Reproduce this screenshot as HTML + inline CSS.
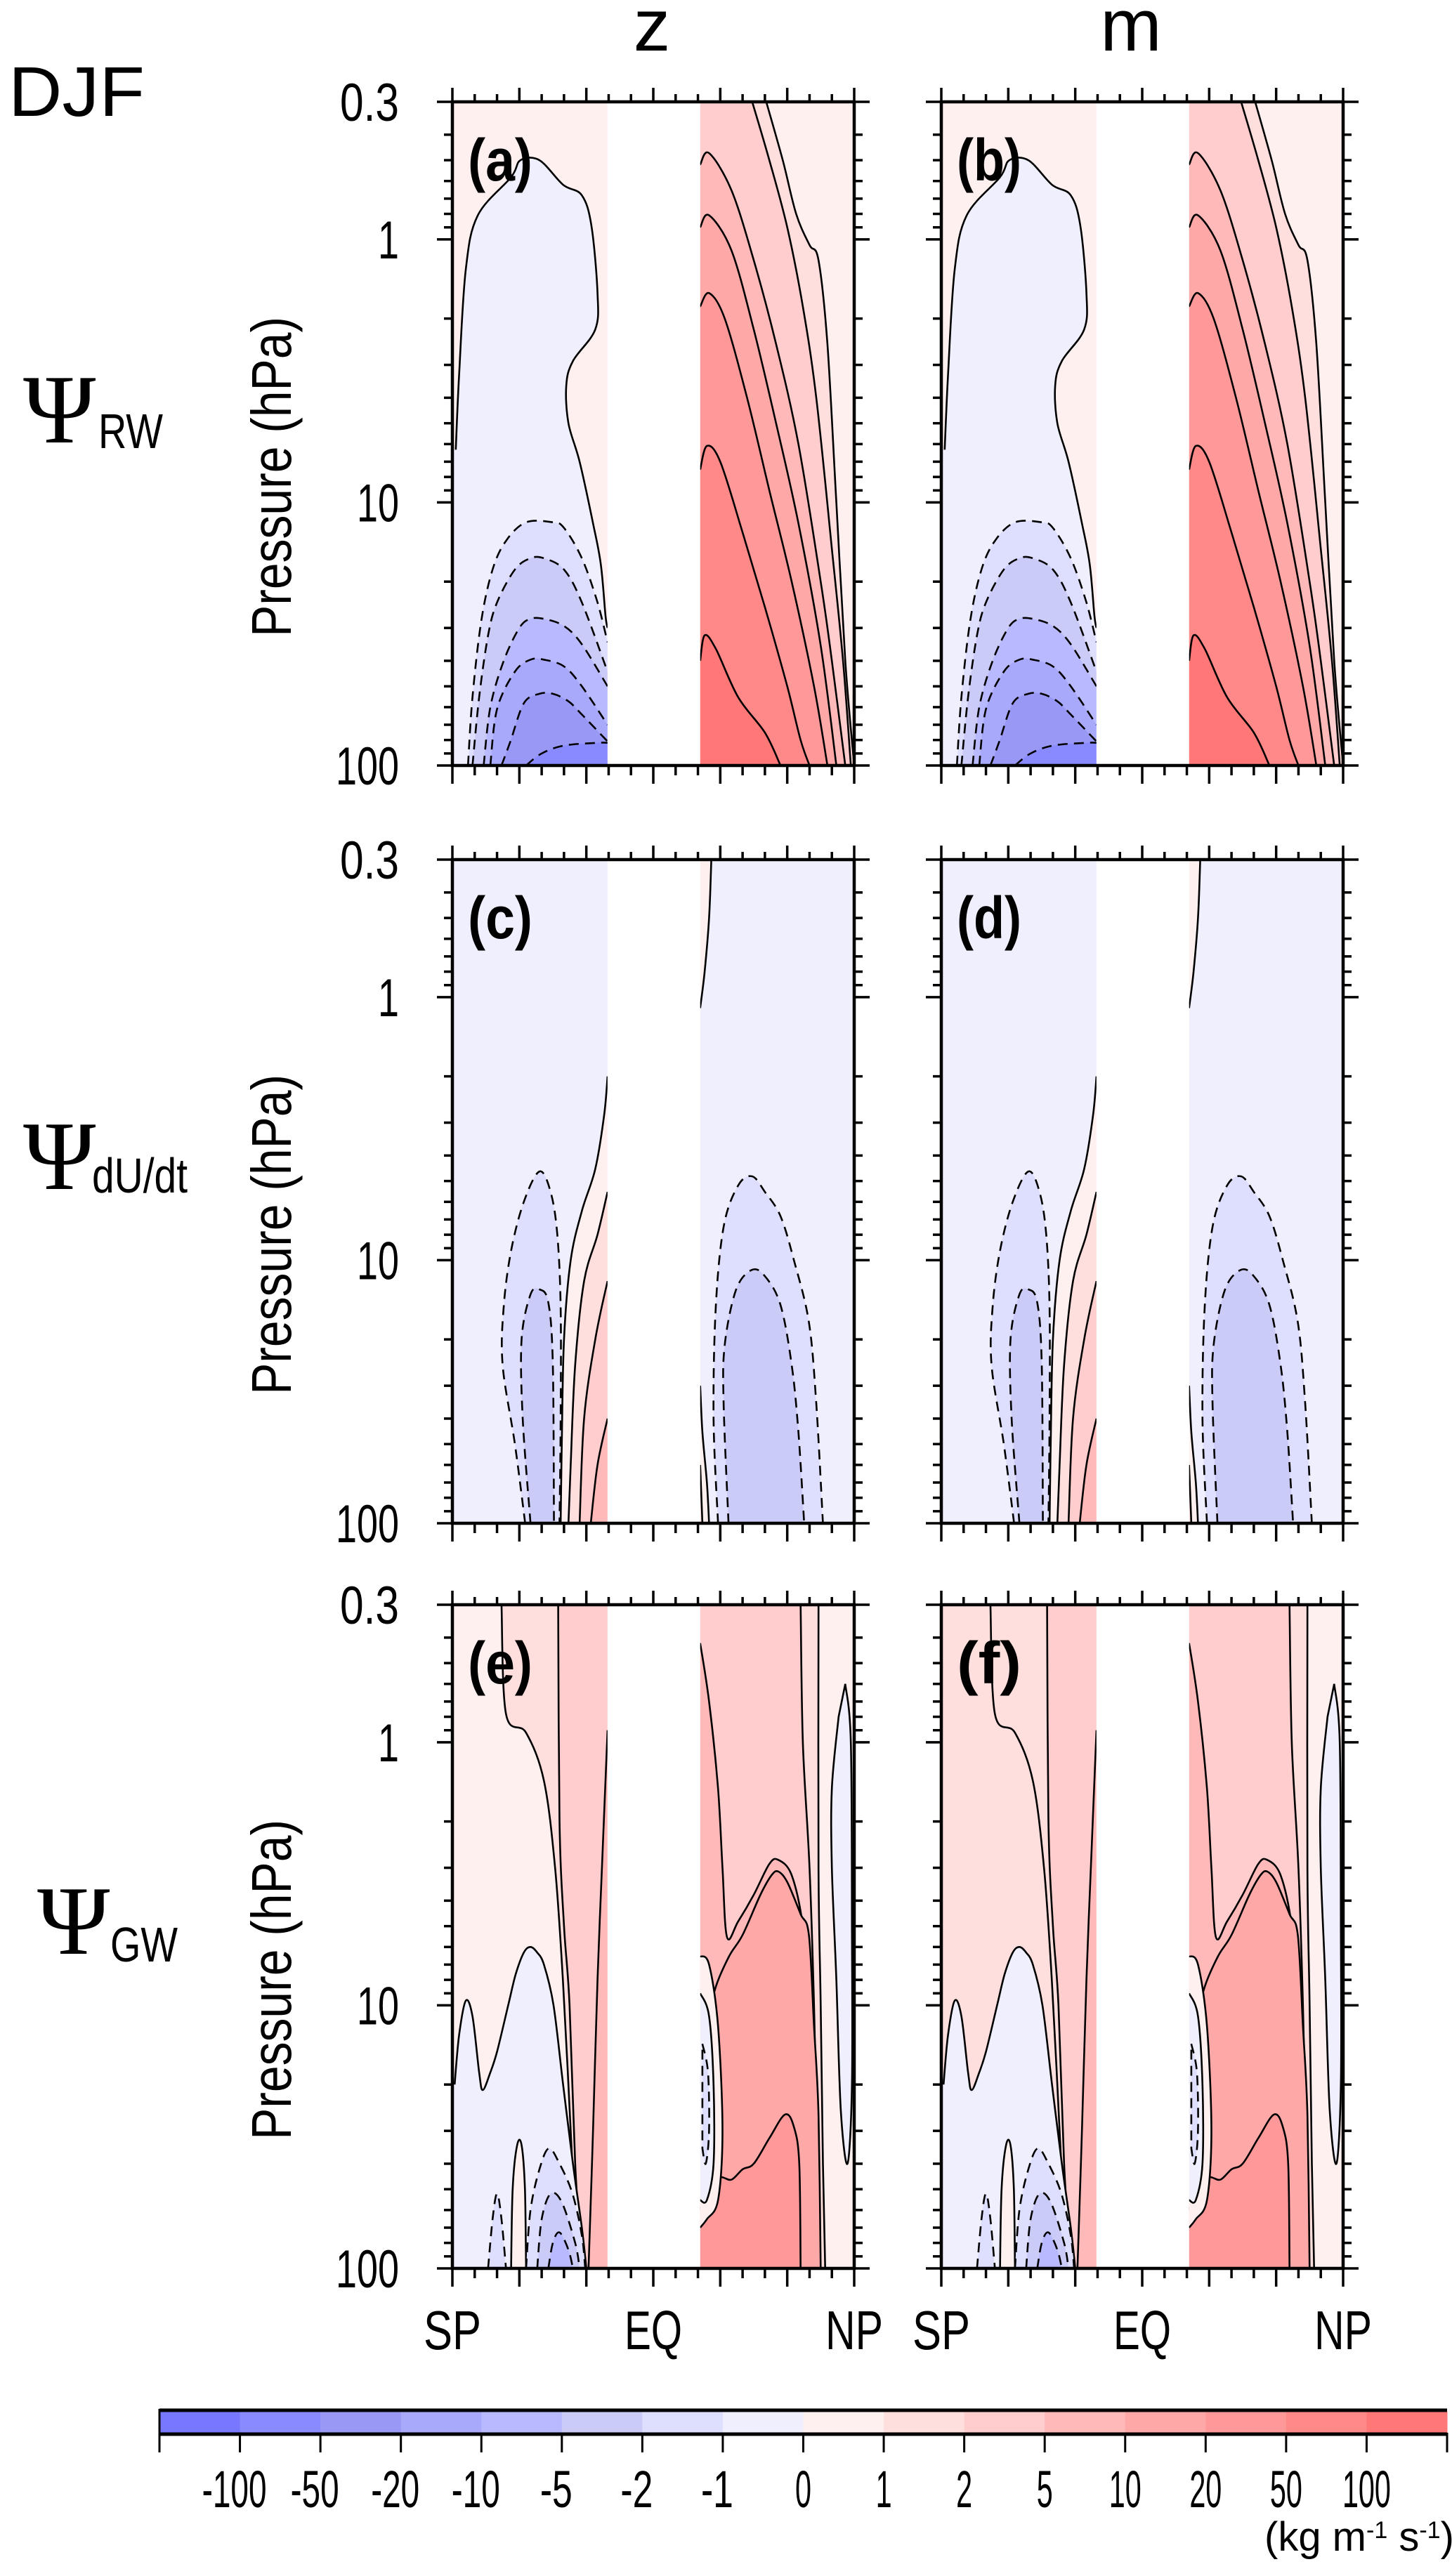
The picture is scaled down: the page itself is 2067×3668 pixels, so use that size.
<!DOCTYPE html>
<html><head><meta charset="utf-8"><style>
html,body{margin:0;padding:0;background:#fff;}
svg{display:block;}
text{font-family:"Liberation Sans Narrow","Liberation Sans",sans-serif;fill:#000;}
</style></head>
<body>
<svg id="fig" width="2067" height="3668" viewBox="0 0 2067 3668" xmlns="http://www.w3.org/2000/svg">
<text x="12" y="165" font-size="100" textLength="194" lengthAdjust="spacingAndGlyphs" style="font-family:'Liberation Sans',sans-serif">DJF</text>
<text x="928" y="72" font-size="105" text-anchor="middle">z</text>
<text x="1610" y="72" font-size="105" text-anchor="middle">m</text>
<g><text x="33" y="630" font-size="140" style="font-family:'Liberation Serif',serif">Ψ</text><text x="140" y="638" font-size="70" textLength="92" lengthAdjust="spacingAndGlyphs">RW</text></g>
<g><text x="33" y="1693" font-size="140" style="font-family:'Liberation Serif',serif">Ψ</text><text x="131" y="1698" font-size="70" textLength="136" lengthAdjust="spacingAndGlyphs">dU/dt</text></g>
<g><text x="53" y="2782" font-size="140" style="font-family:'Liberation Serif',serif">Ψ</text><text x="157" y="2793" font-size="70" textLength="96" lengthAdjust="spacingAndGlyphs">GW</text></g>
</svg>
<script>
// ---------- colour scale data ----------
const binColors=['#7878ff','#8a8aff','#9999f5','#a9a9fc','#b9b9ff','#cbcbf8','#dedefe','#efeffd','#fff0f0','#ffdede','#ffcdcd','#ffb9b9','#ffa8a8','#ff9999','#ff8888','#ff7777'];
const cbTickLabels=['-100','-50','-20','-10','-5','-2','-1','0','1','2','5','10','20','50','100'];
const pTicksMajor=[0.3,1,10,100];
const pTickLabels=['0.3','1','10','100'];
const pTicksMinor=[0.4,0.5,0.6,0.7,0.8,0.9,2,3,4,5,6,7,8,9,20,30,40,50,60,70,80,90];
const latTicks=[-90,-80,-70,-60,-50,-40,-30,-20,-10,0,10,20,30,40,50,60,70,80,90];
const latLabels=['SP','EQ','NP'];
const latLabelPos=[-90,0,90];

// ---------- panel a/b : Psi_RW ----------
const rwShZero=[[-88.5,6.3],[-87,3.3],[-84,1.3],[-78.6,0.81],[-63.7,0.58],[-59.5,0.5],[-51,0.5],[-40.4,0.62],[-32,0.68],[-27.7,0.89],[-25,1.6],[-26,2.2],[-36,2.9],[-39,3.6],[-38,5],[-33,7],[-27,12],[-23.5,17.2],[-21.4,27],[-20.5,30]];
const rwShM1=[[-83,100],[-81,55],[-77,28],[-72,18],[-66,14],[-57,11.9],[-45,11.9],[-40,12.5],[-32,16.3],[-25,24],[-20.5,34]];
const rwShM2=[[-81,100],[-78,55],[-74,32],[-70,24],[-62,18],[-55,16.3],[-49,16.3],[-40,18],[-32,24],[-20.5,44]];
const rwShM5=[[-76,100],[-73,60],[-67,40],[-60,30],[-55,27.7],[-49,27.7],[-40,29.5],[-32,34.6],[-20.5,50]];
const rwShM10=[[-73,100],[-70,61],[-62,44],[-55,39.6],[-49,39.6],[-40,42],[-32,50],[-20.5,70]];
const rwShM20=[[-68,100],[-64,81],[-58,58],[-51,53.4],[-45,53.4],[-38,57],[-32,64],[-20.5,81]];
const rwShM50=[[-57,100],[-50,90],[-40,84],[-25,82],[-20.5,82]];
const rwNh1=[[50.6,0.3],[58,0.5],[64,0.8],[70,1.05],[74,1.2],[78,2.5],[82,10],[86,40],[90,100]];
const rwNh2=[[44.3,0.3],[52,0.5],[60,0.9],[67,1.8],[73,4],[80,15],[85,40],[88.5,100]];
const rwNh5=[[21,0.52],[25,0.47],[35,0.65],[45,1.2],[55,2.5],[65,6],[75,20],[80,40],[86,100]];
const rwNh10=[[21,0.9],[25,0.81],[35,1.1],[45,2.2],[55,5],[65,12],[75,35],[82,100]];
const rwNh20=[[21,1.8],[25,1.6],[32,2],[42,4],[52,9],[62,20],[72,50],[78,100]];
const rwNh50=[[21,7.5],[24,6.1],[30,7],[40,13],[50,25],[60,50],[66,80],[70,100]];
const rwNh100=[[21,40],[23,32],[28,36],[38,55],[50,75],[57,100]];

// ---------- panel c/d : Psi_dU/dt ----------
const duShM1=[[-57.4,100],[-62,50],[-67.5,25],[-67,15],[-63.7,9.2],[-58,6],[-51,4.6],[-46,5.5],[-43,8],[-41.5,15],[-41.5,40],[-42,100]];
const duShM2=[[-55,100],[-58.5,40],[-59,20],[-55,13.5],[-51,12.9],[-47,14.5],[-45,25],[-44.5,100]];
const duShP0=[[-20.5,2.0],[-22,2.8],[-26,4.5],[-32,6.5],[-37,10],[-40,20],[-41,50],[-41.5,100]];
const duShP1=[[-20.5,5.5],[-25,8],[-31,12],[-35,25],[-37,60],[-38,100]];
const duShP2=[[-20.5,12],[-26,20],[-31,40],[-33,100]];
const duShP5=[[-20.5,40],[-25,60],[-28,100]];
const duNhTop=[[26,0.3],[25,0.5],[23,0.8],[21,1.1]];
const duNhP0=[[21,30],[22,45],[24,70],[25,100]];
const duNhP1=[[21,60],[22,100]];
const duNhM1=[[29,100],[27,40],[28,15],[31.6,7.4],[38,5.2],[44.3,4.8],[50,5.5],[57,6.8],[63,10],[69.7,17.2],[73,35],[76,100]];
const duNhM2=[[33.7,100],[31.5,35],[32,21],[37,13],[44,10.9],[50,11.5],[57,14.8],[62,25],[65,45],[67.6,100]];

// ---------- panel e/f : Psi_GW ----------
const gwSh1=[[-68,0.3],[-66,0.78],[-57,0.92],[-49,1.4],[-44,3],[-40.5,8],[-37,30],[-34,100]];
const gwSh2=[[-42.6,0.3],[-42,2],[-40,5],[-37.5,10],[-35,40],[-32,100]];
const gwSh5=[[-20.5,0.9],[-23,3],[-25,8],[-27,30],[-29,100]];
const gwShZero=[[-89,20],[-87,13],[-84,9.6],[-81,11],[-78,18],[-76.4,21],[-73,18],[-70,15],[-65,10],[-61.6,7.6],[-58,6.3],[-55,6],[-52,6.3],[-49,7],[-44.7,10],[-40.4,20],[-36,40],[-32,70],[-30,100]];
const gwShSpike=[[-63.7,100],[-63,50],[-61,34],[-59,34],[-57.5,50],[-57,100]];
const gwShM1=[[-57,100],[-55,60],[-51,42],[-46.8,35],[-42,40],[-36.2,52],[-32,75],[-30.5,100]];
const gwShM2=[[-52,100],[-50,65],[-46,52],[-41,56],[-35,80],[-33,100]];
const gwShM5=[[-47,100],[-45,80],[-42,73],[-38,85],[-36,100]];
const gwShSmall=[[-74,100],[-72,65],[-70,52],[-68,65],[-66,100]];
const gwNh1=[[74,0.3],[74,3],[75,10],[76,40],[77,100]];
const gwNh2=[[66,0.3],[67,1],[70,3],[72,10],[73.5,40],[74,100]];
const gwNh5=[[21,0.42],[25,0.7],[29,1.5],[31,3],[33,5.5],[38,4.8],[45,3.8],[52,2.9],[56,2.8],[62,3.2],[67,5],[70,10],[72,30],[73,100]];
const gwNh10=[[21,20],[24,12],[28,8.5],[34,6.5],[40,5.4],[48,3.8],[53,3.2],[56,3.1],[60,3.4],[66,4.5],[69.7,5.4],[72,12],[74,26],[75,100]];
const gwNh20=[[21,60],[25,48],[30,45],[35,46],[40,42],[45,40],[52,32],[59,26],[63,29],[65.4,40],[66,100]];
const gwNhBlue=[[86,0.6],[88.5,1.0],[89,5],[89,20],[87,40],[84,25],[82,8],[80,3],[80,1.5],[83,0.8]];
const gwNhRing=[[21,6.5],[25,7],[29,12],[31,30],[29,55],[24,65],[21,70]];
const gwNhRingBlue=[[21,9],[25,11],[27,20],[27,40],[24,55],[21,55]];
const gwNhRingNeg=[[22,14],[24.5,18],[25,30],[23.5,40],[22,35]];

// ---------- layout ----------
const NS='http://www.w3.org/2000/svg';
const svg=document.getElementById('fig');
const colX=[644,1340], PW=572;
const rowY=[145,1224,2285], PH=945;
const GAPL=-20.5, GAPR=21;
function mk(tag,attrs,parent){const e=document.createElementNS(NS,tag);for(const k in attrs)e.setAttribute(k,attrs[k]);(parent||svg).appendChild(e);return e;}

function smooth(P){
  if(P.length<3){return 'M'+P.map(p=>p[0].toFixed(1)+','+p[1].toFixed(1)).join('L');}
  let d='M'+P[0][0].toFixed(1)+','+P[0][1].toFixed(1);
  for(let i=0;i<P.length-1;i++){
    const p0=P[i-1]||P[i],p1=P[i],p2=P[i+1],p3=P[i+2]||p2;
    const c1=[p1[0]+(p2[0]-p0[0])/6,p1[1]+(p2[1]-p0[1])/6];
    const c2=[p2[0]-(p3[0]-p1[0])/6,p2[1]-(p3[1]-p1[1])/6];
    d+='C'+c1[0].toFixed(1)+','+c1[1].toFixed(1)+' '+c2[0].toFixed(1)+','+c2[1].toFixed(1)+' '+p2[0].toFixed(1)+','+p2[1].toFixed(1);
  }
  return d;
}

function panel(ci,ri,letter,spec){
  const x0=colX[ci],y0=rowY[ri];
  const xS=lat=>x0+(lat+90)/180*PW;
  const yS=p=>y0+Math.log10(p/0.3)/Math.log10(100/0.3)*PH;
  const g=mk('g',{});
  
  
  const cid='clip-'+letter;
  const cp=mk('clipPath',{id:cid},g);
  mk('rect',{x:x0,y:y0,width:PW,height:PH},cp);
  const body=mk('g',{'clip-path':'url(#'+cid+')'},g);
  const sh=mk('rect',{x:xS(-90),y:y0,width:xS(GAPL)-xS(-90),height:PH,fill:binColors[spec.shBg]},body);
  
  
  const nh=mk('rect',{x:xS(GAPR),y:y0,width:xS(90)-xS(GAPR),height:PH,fill:binColors[spec.nhBg]},body);
  
  
  spec.regions.forEach((r,i)=>{
    const pts=r.pts.map(q=>[xS(q[0]),yS(q[1])]);
    const cl=(r.close||[]).map(q=>[xS(q[0]),yS(q[1])]);
    let d=smooth(pts);
    let fd=d+cl.map(q=>'L'+q[0].toFixed(1)+','+q[1].toFixed(1)).join('')+'Z';
    const f=mk('path',{d:fd,fill:binColors[r.bin],stroke:'none'},body);
    
    
    if(r.closed) d+='Z';
    const s=mk('path',{d:d,fill:'none',stroke:'#000','stroke-width':2.6,'stroke-dasharray':r.dash?'14 9':'none'},body);
    
    
  });
  const gap=mk('rect',{x:xS(GAPL),y:y0,width:xS(GAPR)-xS(GAPL),height:PH,fill:'#fff'},body);
  
  
  const fr=mk('rect',{x:x0,y:y0,width:PW,height:PH,fill:'none',stroke:'#000','stroke-width':4.5},g);
  
  
  const tk=mk('g',{stroke:'#000','stroke-width':3.5},g);
  
  
  latTicks.forEach(l=>{
    const maj=(l%30===0), x=xS(l);
    mk('line',{x1:x,x2:x,y1:y0,y2:y0-(maj?20:11)},tk);
    mk('line',{x1:x,x2:x,y1:y0+PH,y2:y0+PH+(maj?26:14)},tk);
  });
  pTicksMajor.forEach(p=>{const y=yS(p);mk('line',{x1:x0,x2:x0-22,y1:y,y2:y},tk);mk('line',{x1:x0+PW,x2:x0+PW+22,y1:y,y2:y},tk);});
  pTicksMinor.forEach(p=>{const y=yS(p);mk('line',{x1:x0,x2:x0-12,y1:y,y2:y},tk);mk('line',{x1:x0+PW,x2:x0+PW+12,y1:y,y2:y},tk);});
  const lt=mk('text',{x:x0+22,y:y0+112,'font-size':84,'font-weight':'bold',textLength:92,lengthAdjust:'spacingAndGlyphs'},g);
  lt.textContent='('+letter+')';
  
  
  if(ci===0){
    pTicksMajor.forEach((p,i)=>{
      const t=mk('text',{x:568,y:yS(p)+27,'font-size':76,'text-anchor':'end',textLength:pTickLabels[i].length===3&&p<1?84:pTickLabels[i].length*30,lengthAdjust:'spacingAndGlyphs'},g);
      t.textContent=pTickLabels[i];
      
      
    });
    const cy=y0+PH*0.565;
    const yt=mk('text',{x:0,y:0,'font-size':80,'text-anchor':'middle',textLength:456,lengthAdjust:'spacingAndGlyphs',transform:'translate(414,'+cy+') rotate(-90)'},g);
    yt.textContent='Pressure (hPa)';
    
    
  }
  if(ri===2){
    latLabels.forEach((s,i)=>{
      const t=mk('text',{x:xS(latLabelPos[i]),y:3345,'font-size':78,'text-anchor':'middle',textLength:82,lengthAdjust:'spacingAndGlyphs'},g);
      t.textContent=s;
      
      
    });
  }
}

const closeGapBot=[[GAPL,100]], closeNhGapBot=[[GAPR,100]], closeNhLeft=[[GAPR,100],[GAPR,0.3]], closeShRight=[[GAPL,100],[GAPL,0.3]];
const specRW={shBg:8,nhBg:8,regions:[
  {pts:rwShZero,close:[[GAPL,100],[-90,100],[-90,6.3]],bin:7},
  {pts:rwShM1,close:closeGapBot,bin:6,dash:1},
  {pts:rwShM2,close:closeGapBot,bin:5,dash:1},
  {pts:rwShM5,close:closeGapBot,bin:4,dash:1},
  {pts:rwShM10,close:closeGapBot,bin:3,dash:1},
  {pts:rwShM20,close:closeGapBot,bin:2,dash:1},
  {pts:rwShM50,close:closeGapBot,bin:1,dash:1},
  {pts:rwNh1,close:closeNhLeft,bin:9},
  {pts:rwNh2,close:closeNhLeft,bin:10},
  {pts:rwNh5,close:closeNhGapBot,bin:11},
  {pts:rwNh10,close:closeNhGapBot,bin:12},
  {pts:rwNh20,close:closeNhGapBot,bin:13},
  {pts:rwNh50,close:closeNhGapBot,bin:14},
  {pts:rwNh100,close:closeNhGapBot,bin:15}]};
const specDU={shBg:7,nhBg:7,regions:[
  {pts:duShM1,bin:6,dash:1},
  {pts:duShM2,bin:5,dash:1},
  {pts:duShP0,close:closeGapBot,bin:8},
  {pts:duShP1,close:closeGapBot,bin:9},
  {pts:duShP2,close:closeGapBot,bin:10},
  {pts:duShP5,close:closeGapBot,bin:11},
  {pts:duNhTop,close:[[GAPR,1.1],[GAPR,0.3]],bin:8},
  {pts:duNhM1,bin:6,dash:1},
  {pts:duNhM2,bin:5,dash:1},
  {pts:duNhP0,close:closeNhGapBot,bin:8},
  {pts:duNhP1,close:closeNhGapBot,bin:9}]};
function specGW(shBg){return {shBg:shBg,nhBg:8,regions:[
  {pts:gwSh1,close:closeShRight,bin:9},
  {pts:gwSh2,close:closeShRight,bin:10},
  {pts:gwSh5,close:closeGapBot,bin:11},
  {pts:gwShZero,close:[[-90,100],[-90,20]],bin:7},
  {pts:gwShSpike,bin:8},
  {pts:gwShSmall,bin:6,dash:1},
  {pts:gwShM1,bin:6,dash:1},
  {pts:gwShM2,bin:5,dash:1},
  {pts:gwShM5,bin:4,dash:1},
  {pts:gwNh1,close:closeNhLeft,bin:9},
  {pts:gwNh2,close:closeNhLeft,bin:10},
  {pts:gwNhBlue,bin:7,closed:1},
  {pts:gwNh5,close:closeNhGapBot,bin:11},
  {pts:gwNh10,close:closeNhGapBot,bin:12},
  {pts:gwNh20,close:closeNhGapBot,bin:13},
  {pts:gwNhRing,bin:8},
  {pts:gwNhRingBlue,bin:7},
  {pts:gwNhRingNeg,bin:6,dash:1,closed:1}]};}

panel(0,0,'a',specRW);panel(1,0,'b',specRW);
panel(0,1,'c',specDU);panel(1,1,'d',specDU);
panel(0,2,'e',specGW(8));panel(1,2,'f',specGW(9));

// ---------- colorbar ----------
const cb=mk('g',{});


const cbX0=227,cbX1=2060,cbY=3434,cbH=30,nb=binColors.length,bw=(cbX1-cbX0)/nb;
binColors.forEach((c,i)=>{
  const r=mk('rect',{x:cbX0+i*bw,y:cbY,width:bw+0.5,height:cbH,fill:c},cb);
  
  
});
mk('line',{x1:cbX0,x2:cbX1,y1:cbY-2,y2:cbY-2,stroke:'#000','stroke-width':5},cb);
mk('line',{x1:cbX0,x2:cbX1,y1:cbY+cbH+2,y2:cbY+cbH+2,stroke:'#000','stroke-width':5},cb);
for(let i=0;i<=nb;i++){mk('line',{x1:cbX0+i*bw,x2:cbX0+i*bw,y1:cbY+cbH,y2:cbY+cbH+28,stroke:'#000','stroke-width':3},cb);}
mk('line',{x1:cbX0,x2:cbX0,y1:cbY-4,y2:cbY+cbH+4,stroke:'#000','stroke-width':3},cb);
cbTickLabels.forEach((s,i)=>{
  const t=mk('text',{x:cbX0+(i+1)*bw-(s[0]==='-'?8:0),y:3570,'font-size':74,'text-anchor':'middle',textLength:s.length*23,lengthAdjust:'spacingAndGlyphs'},cb);
  t.textContent=s;
  
  
});
const u=mk('text',{x:1800,y:3632,'font-size':58},cb);


u.innerHTML='(kg m<tspan dy="-18" font-size="34">-1</tspan><tspan dy="18"> s</tspan><tspan dy="-18" font-size="34">-1</tspan><tspan dy="18">)</tspan>';
</script>
</body></html>
